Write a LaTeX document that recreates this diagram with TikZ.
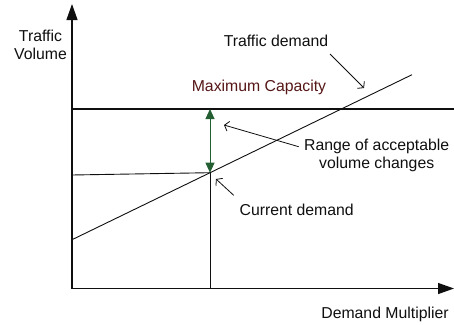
\documentclass[tikz,border=0pt]{standalone}
\usepackage{fontspec}
\setmainfont{Liberation Sans}
\usetikzlibrary{arrows.meta}
\definecolor{capred}{RGB}{85,22,22}
\definecolor{rangegreen}{RGB}{35,95,50}
\definecolor{ink}{RGB}{15,15,15}
\begin{document}
\begin{tikzpicture}[x=1pt,y=-1pt,
  lbl/.style={font=\fontsize{15.8}{18}\selectfont, inner sep=0pt, align=center, text=ink, anchor=base},
  axis/.style={line width=1.2pt, draw=ink, -{Triangle[length=16pt,width=11pt]}},
  pointer/.style={line width=0.8pt, draw=ink, -{Straight Barb[length=4pt,width=10pt]}},
  guide/.style={line width=0.9pt, draw=ink}]
\useasboundingbox (0,0) rectangle (454,324);
% axes
\coordinate (O) at (72,288.5);
\coordinate (ytop) at (72,4);
\coordinate (xend) at (454,288.5);
\draw[axis] (O) -- (ytop);
\draw[axis] (O) -- (xend);
% maximum capacity line
\coordinate (capL) at (72,109);
\coordinate (capR) at (454,109);
\draw[line width=1.6pt, draw=ink] (capL) -- (capR);
% traffic demand line
\coordinate (dL) at (72,239.7);
\coordinate (dR) at (412,74.7);
\draw[guide] (dL) -- (dR);
% current demand point and guides
\coordinate (C) at (210,172.7);
\coordinate (Cy) at (72,175);
\coordinate (Cx) at (210,288.5);
\coordinate (Ctop) at (210,109);
\draw[guide] (Cy) -- (C);
\draw[guide] (C) -- (Cx);
% range arrow
\draw[line width=0.9pt, draw=rangegreen, {Triangle[length=10pt,width=9pt]}-{Triangle[length=10pt,width=9pt]}] (C) -- (Ctop);
% labels
\node[lbl] (tv) at (40.5,59) {Traffic\\Volume};
\node[lbl] (td) at (276,46) {Traffic demand};
\node[lbl, text=capred] (mc) at (259,91.7) {Maximum Capacity};
\node[lbl] (ra) at (376.7,168.5) {Range of acceptable\\volume changes};
\node[lbl] (cd) at (296.7,215.3) {Current demand};
\node[lbl] (dm) at (385,318.7) {Demand Multiplier};
% pointers
\coordinate (tds) at (330,54);
\coordinate (tdp) at (364,88);
\coordinate (ras) at (298.7,146.7);
\coordinate (rap) at (224,125);
\coordinate (cds) at (233.7,195.3);
\coordinate (cdp) at (216,179);
\draw[pointer] (tds) -- (tdp);
\draw[pointer] (ras) -- (rap);
\draw[pointer] (cds) -- (cdp);
\end{tikzpicture}
\end{document}
